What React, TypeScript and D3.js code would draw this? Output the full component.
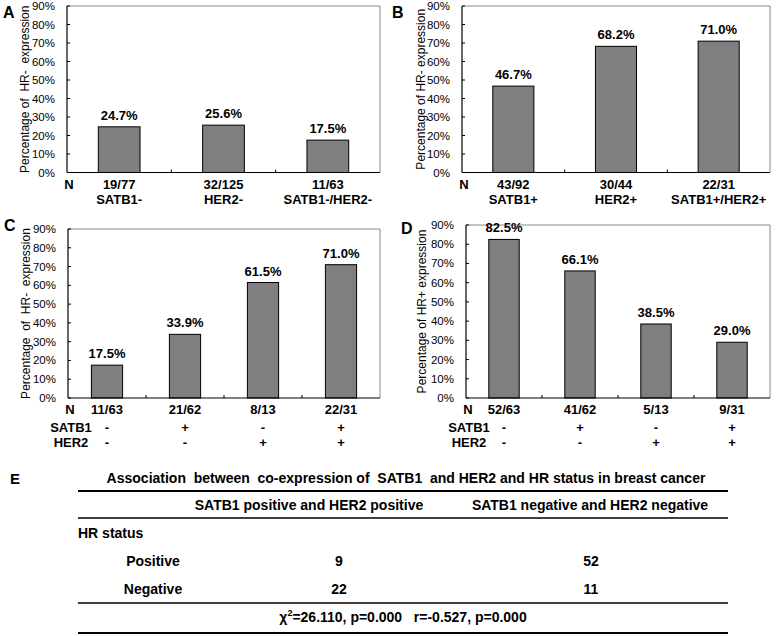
import * as d3 from 'd3'
import React from 'react';

// panel A: HR- share in single-negative groups
const catsA = ['SATB1-', 'HER2-', 'SATB1-/HER2-']
const valsA = [24.7, 25.6, 17.5]
const nA = ['19/77', '32/125', '11/63']

// panel B: HR- share in positive groups
const catsB = ['SATB1+', 'HER2+', 'SATB1+/HER2+']
const valsB = [46.7, 68.2, 71.0]
const nB = ['43/92', '30/44', '22/31']

// panels C / D: four SATB1/HER2 combinations
const satb1Signs = ['-', '+', '-', '+']
const her2Signs = ['-', '-', '+', '+']
const valsC = [17.5, 33.9, 61.5, 71.0]
const nC = ['11/63', '21/62', '8/13', '22/31']
const valsD = [82.5, 66.1, 38.5, 29.0]
const nD = ['52/63', '41/62', '5/13', '9/31']

const yTicks = [0, 10, 20, 30, 40, 50, 60, 70, 80, 90]

// panel E table
const tableTitle = 'Association  between  co-expression of  SATB1  and HER2 and HR status in breast cancer'
const colHeads = ['SATB1 positive and HER2 positive', 'SATB1 negative and HER2 negative']
const hrRows = ['Positive', 'Negative']
const coPositive = [9, 22]
const coNegative = [52, 11]

const font = 'Liberation Sans, Arial, sans-serif'

type panelProps = {
    letter: string, lx: number, ly: number,
    x0: number, x1: number, top: number, bottom: number,
    titleX: number, yTitle: string,
    values: number[], n: string[], cats?: string[], signs?: boolean
}

const Panel = ({ letter, lx, ly, x0, x1, top, bottom, titleX, yTitle, values, n, cats, signs }: panelProps) => {
    const idx = values.map((_, i) => i)
    const x = d3.scaleBand<number>().domain(idx).range([x0, x1]).paddingInner(0.6).paddingOuter(0.3)
    const y = d3.scaleLinear().domain([0, 90]).range([bottom, top])
    const step = (x1 - x0) / values.length
    const cx = (i: number) => (x(i) as number) + x.bandwidth() / 2
    return (
        <g fontFamily={font}>
            <text x={lx} y={ly} fontSize={16} fontWeight="bold">{letter}</text>
            {/* plot frame */}
            <path d={`M${x0},${top}H${x1}V${bottom}`} fill="none" stroke="#888" strokeWidth={1} />
            {idx.map(i => (
                <rect key={i} x={x(i)} y={y(values[i])} width={x.bandwidth()} height={bottom - y(values[i])}
                    fill="#7f7f7f" stroke="#000" strokeWidth={1} />
            ))}
            {idx.map(i => (
                <text key={i} x={cx(i)} y={y(values[i]) - 7} textAnchor="middle" fontSize={13} fontWeight="bold">
                    {values[i].toFixed(1)}%
                </text>
            ))}
            {/* y axis */}
            <line x1={x0} x2={x0} y1={top} y2={bottom} stroke="#000" strokeWidth={1.2} />
            {yTicks.map(t => (
                <g key={t}>
                    <line x1={x0} x2={x0 + 3} y1={y(t)} y2={y(t)} stroke="#000" />
                    <text x={x0 - 12} y={y(t) + 4} textAnchor="end" fontSize={11.5}>{t}%</text>
                </g>
            ))}
            {/* x axis */}
            <line x1={x0} x2={x1} y1={bottom} y2={bottom} stroke="#000" strokeWidth={1.2} />
            {idx.slice(1).map(i => (
                <line key={i} x1={x0 + step * i} x2={x0 + step * i} y1={bottom} y2={bottom - 3} stroke="#000" />
            ))}
            <text transform={`translate(${titleX},${(top + bottom) / 2}) rotate(-90)`} textAnchor="middle"
                dominantBaseline="middle" fontSize={12} style={{ whiteSpace: 'pre' }}>{yTitle}</text>
            {/* N row */}
            <text x={x0 + 2} y={bottom + 16} textAnchor="middle" fontSize={13} fontWeight="bold">N</text>
            {idx.map(i => (
                <text key={i} x={cx(i)} y={bottom + 16} textAnchor="middle" fontSize={13} fontWeight="bold">{n[i]}</text>
            ))}
            {cats && idx.map(i => (
                <text key={i} x={cx(i)} y={bottom + 31} textAnchor="middle" fontSize={13} fontWeight="bold">{cats[i]}</text>
            ))}
            {signs && (
                <g fontSize={13} fontWeight="bold" textAnchor="middle">
                    <text x={x0 + 3} y={bottom + 34}>SATB1</text>
                    <text x={x0 + 3} y={bottom + 49}>HER2</text>
                    {idx.map(i => (
                        <g key={i}>
                            <text x={cx(i)} y={bottom + 34}>{satb1Signs[i]}</text>
                            <text x={cx(i)} y={bottom + 49}>{her2Signs[i]}</text>
                        </g>
                    ))}
                </g>
            )}
        </g>
    )
}

const Table = () => {
    const left = 78, right = 728
    const colX = [309, 590]
    const valX = [339, 591]
    const mid = (left + right) / 2
    return (
        <g fontFamily={font} fontWeight="bold" fontSize={14}>
            <text x={10} y={484} fontSize={15}>E</text>
            <text x={mid + 3} y={483} textAnchor="middle" style={{ whiteSpace: 'pre' }}>{tableTitle}</text>
            <line x1={left} x2={right} y1={491} y2={491} stroke="#000" strokeWidth={2} />
            {colHeads.map((h, i) => (
                <text key={h} x={colX[i]} y={510} textAnchor="middle">{h}</text>
            ))}
            <line x1={left} x2={right} y1={518} y2={518} stroke="#000" strokeWidth={1.5} />
            <text x={left} y={538}>HR status</text>
            {hrRows.map((r, i) => (
                <g key={r}>
                    <text x={153} y={566 + i * 28} textAnchor="middle">{r}</text>
                    <text x={valX[0]} y={566 + i * 28} textAnchor="middle">{coPositive[i]}</text>
                    <text x={valX[1]} y={566 + i * 28} textAnchor="middle">{coNegative[i]}</text>
                </g>
            ))}
            <line x1={left} x2={right} y1={603} y2={603} stroke="#000" strokeWidth={1.5} />
            <text x={mid} y={622} textAnchor="middle" style={{ whiteSpace: 'pre' }}>
                χ<tspan fontSize={9} dy={-6}>2</tspan><tspan dy={6}>=26.110, p=0.000   r=-0.527, p=0.000</tspan>
            </text>
            <line x1={left} x2={right} y1={633} y2={633} stroke="#000" strokeWidth={2} />
        </g>
    )
}

export default function App() {
    return (
        <>
            <style>{'body{margin:0}'}</style>
            <svg width={778} height={636} viewBox="0 0 778 636" style={{ display: 'block', background: '#fff' }}>
                <Panel letter="A" lx={3} ly={18} x0={67} x1={380} top={6} bottom={172.5} titleX={26}
                    yTitle="Percentage of  HR-  expression" values={valsA} n={nA} cats={catsA} />
                <Panel letter="B" lx={392} ly={18} x0={462} x1={770} top={6} bottom={172.5} titleX={422}
                    yTitle="Percentage of HR- expression" values={valsB} n={nB} cats={catsB} />
                <Panel letter="C" lx={4} ly={231} x0={68} x1={380} top={229} bottom={398} titleX={27}
                    yTitle="Percentage  of  HR-  expression" values={valsC} n={nC} signs />
                <Panel letter="D" lx={401} ly={234} x0={466} x1={770} top={225} bottom={398} titleX={423}
                    yTitle="Percentage of HR+ expression" values={valsD} n={nD} signs />
                <Table />
            </svg>
        </>
    )
}
